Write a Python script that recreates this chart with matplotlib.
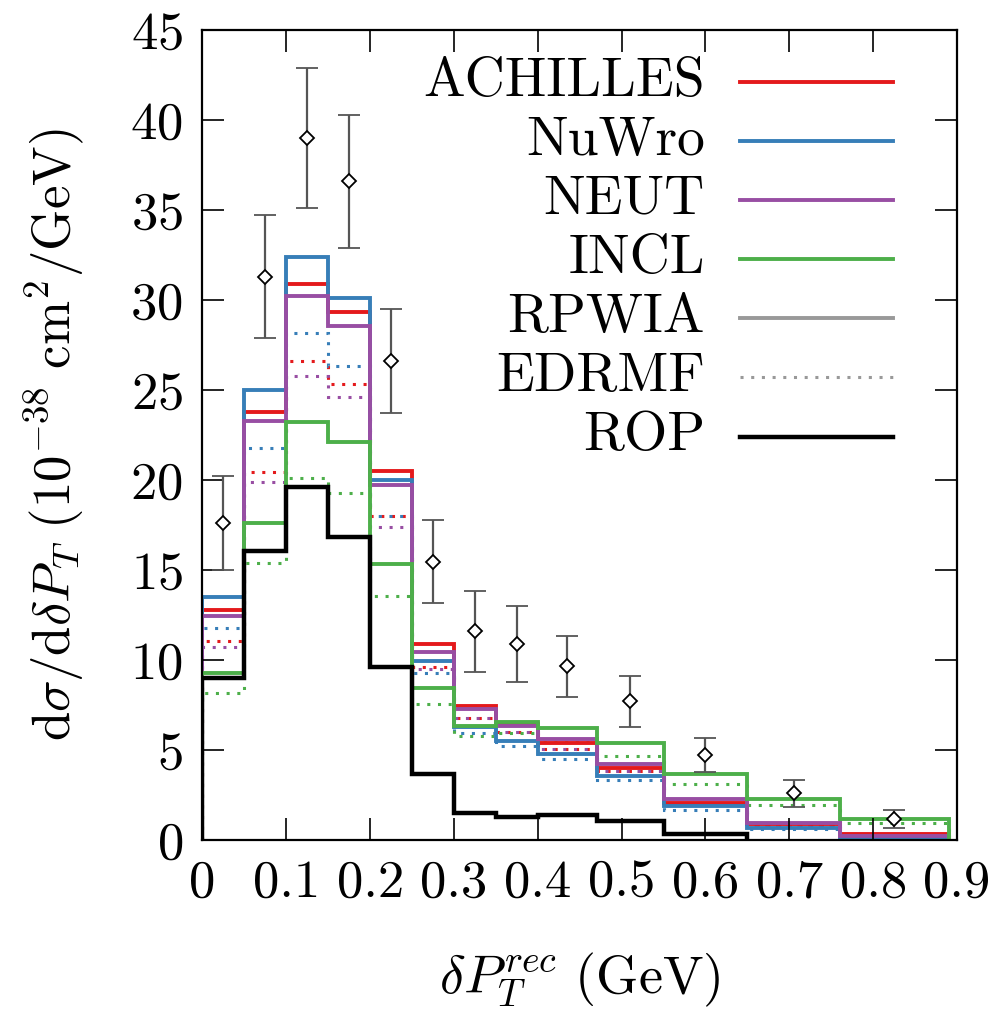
import numpy as np
import matplotlib
matplotlib.use("Agg")
from matplotlib import pyplot as plt

plt.rcParams['font.family'] = ['cmr10']
plt.rcParams['mathtext.fontset'] = 'cm'
plt.rcParams['axes.formatter.use_mathtext'] = True

# bin edges (GeV)
edges = [0, 0.05, 0.1, 0.15, 0.2, 0.25, 0.3, 0.35, 0.4, 0.47, 0.55, 0.65, 0.76, 0.89]
rop_edges = edges[:12]

# solid (RPWIA)
achilles = [12.8, 23.8, 30.9, 29.35, 20.5, 10.9, 7.45, 6.45, 5.4, 4.02, 2.05, 0.9, 0.35]
nuwro = [13.5, 25.0, 32.4, 30.1, 20.0, 9.95, 6.25, 5.5, 4.78, 3.57, 1.89, 0.65, 0.05]
neut = [12.45, 23.25, 30.2, 28.55, 19.7, 10.45, 7.25, 6.35, 5.59, 4.2, 2.3, 0.96, 0.22]
incl = [9.25, 17.6, 23.2, 22.1, 15.35, 8.43, 6.35, 6.55, 6.2, 5.4, 3.65, 2.26, 1.15]

# dotted (EDRMF)
achilles_ed = [11.05, 20.45, 26.6, 25.35, 18.0, 9.6, 6.8, 6.0, 5.05, 3.85, 2.0, 0.85, 0.35]
nuwro_ed = [11.8, 21.8, 28.15, 26.35, 18.0, 9.3, 5.95, 5.2, 4.48, 3.33, 1.67, 0.6, 0.0]
neut_ed = [10.7, 19.87, 25.8, 24.6, 17.37, 9.5, 6.8, 6.0, 5.05, 3.85, 2.05, 0.85, 0.2]
incl_ed = [8.18, 15.4, 20.13, 19.26, 13.56, 7.54, 5.8, 5.95, 5.46, 4.65, 3.09, 1.94, 0.96]

# ROP
rop = [8.98, 16.07, 19.6, 16.85, 9.63, 3.65, 1.5, 1.28, 1.38, 1.05, 0.35]

# data
data_x = [0.025, 0.075, 0.125, 0.175, 0.225, 0.275, 0.325, 0.375, 0.435, 0.51, 0.6, 0.705, 0.825]
data_y = [17.6, 31.3, 39.0, 36.6, 26.6, 15.45, 11.6, 10.9, 9.65, 7.7, 4.7, 2.6, 1.15]
data_err = [2.6, 3.4, 3.9, 3.7, 2.9, 2.3, 2.25, 2.1, 1.7, 1.4, 0.95, 0.75, 0.5]

xticks = [0, 0.1, 0.2, 0.3, 0.4, 0.5, 0.6, 0.7, 0.8, 0.9]
xticklabels = ["0", "0.1", "0.2", "0.3", "0.4", "0.5", "0.6", "0.7", "0.8", "0.9"]
yticks = [0, 5, 10, 15, 20, 25, 30, 35, 40, 45]

red, blue, purple, green = "#e41a1c", "#377eb8", "#984ea3", "#4daf4a"
gray = "#999999"
dot = (0, (1, 2.5))

fig = plt.figure(figsize=(9.91, 10.21), dpi=100)
ax = fig.add_axes([0.2043, 0.1773, 0.7614, 0.7933])

for vals, c in [(achilles_ed, red), (nuwro_ed, blue), (neut_ed, purple), (incl_ed, green)]:
    ax.stairs(vals, edges, color=c, lw=2.2, ls=dot)
for vals, c in [(achilles, red), (nuwro, blue), (neut, purple), (incl, green)]:
    ax.stairs(vals, edges, color=c, lw=2.8)
ax.stairs(rop, rop_edges, color="black", lw=3.2)

ax.errorbar(data_x, data_y, yerr=data_err, fmt="D", mfc="white", mec="black",
            ms=7.5, mew=1.3, ecolor="#555555", elinewidth=1.6, capsize=8, capthick=1.6)

ax.set_xlim(0, 0.9)
ax.set_ylim(0, 45)
ax.set_xticks(xticks)
ax.set_xticklabels(xticklabels)
ax.set_yticks(yticks)
ax.tick_params(direction="in", length=16, width=1.2, labelsize=38, top=True, right=True, pad=14)
for s in ax.spines.values():
    s.set_linewidth(1.6)

ax.set_xlabel(r"$\delta P_T^{rec}\ (\mathrm{GeV})$", fontsize=39, labelpad=32)
ax.set_ylabel(r"$\mathrm{d}\sigma/\mathrm{d}\delta P_T\ (10^{-38}\ \mathrm{cm}^2/\mathrm{GeV})$",
              fontsize=38, labelpad=32)

# gnuplot-style key: text right aligned, sample on the right
names = ["ACHILLES", "NuWro", "NEUT", "INCL", "RPWIA", "EDRMF", "ROP"]
key_colors = [red, blue, purple, green, gray, gray, "black"]
key_styles = ["-", "-", "-", "-", "-", dot, "-"]
key_widths = [2.8, 2.8, 2.8, 2.8, 2.8, 2.2, 3.2]
ky0, kdy = 0.936, 0.073
for i, name in enumerate(names):
    y = ky0 - i * kdy
    ax.text(0.666, y, name, transform=ax.transAxes, ha="right", va="center", fontsize=40)
    ax.plot([0.712, 0.915], [y, y], transform=ax.transAxes, color=key_colors[i],
            ls=key_styles[i], lw=key_widths[i])

fig.savefig("out.png", dpi=100)
